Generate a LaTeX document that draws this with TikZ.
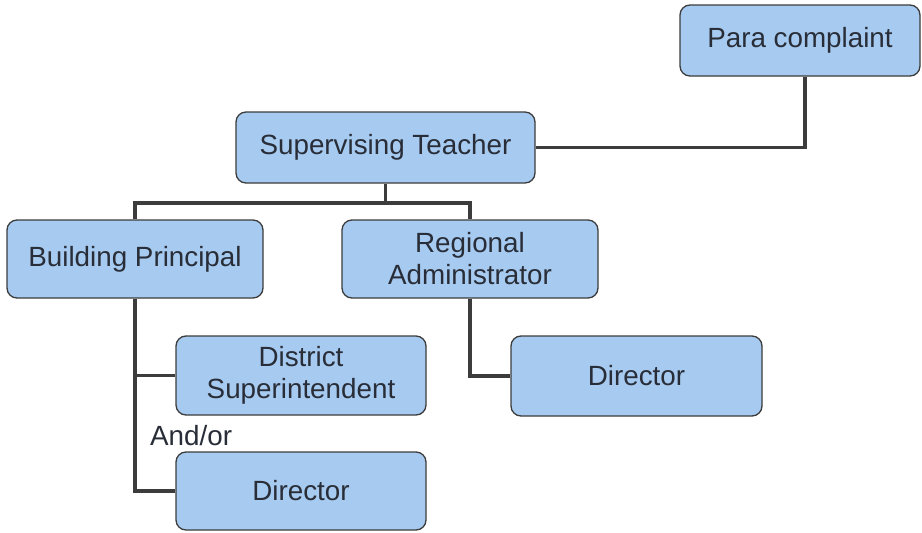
\documentclass[tikz,border=0pt]{standalone}
\usepackage{fontspec}
\setmainfont{Liberation Sans}
\definecolor{boxfill}{RGB}{166,202,240}
\definecolor{boxline}{RGB}{60,60,60}
\definecolor{wire}{RGB}{60,60,60}
\definecolor{ink}{RGB}{40,45,55}
\begin{document}
\begin{tikzpicture}[x=1pt,y=-1pt,
  lbl/.style={text=ink, font=\fontsize{27.8}{32}\selectfont, inner sep=0pt},
  box/.style={lbl, draw=boxline, line width=1.3pt, fill=boxfill, rounded corners=10pt,
    align=center},
  conn/.style={draw=wire, line width=3.5pt}]
  \useasboundingbox[fill=white] (0,0) rectangle (922,533);

  % boxes
  \node[box, minimum width=240pt, minimum height=71pt] (para) at (800,40.5) {Para complaint};
  \node[box, minimum width=299pt, minimum height=71pt] (st) at (385.5,147.5) {Supervising Teacher};
  \node[box, minimum width=256pt, minimum height=78pt] (bp) at (135,259) {Building Principal};
  \node[box, minimum width=256pt, minimum height=78pt] (ra) at (470,259) {Regional\\Administrator};
  \node[box, minimum width=250pt, minimum height=79pt] (ds) at (301,375.5) {District\\Superintendent};
  \node[box, minimum width=250pt, minimum height=78pt] (dir1) at (301,491) {Director};
  \node[box, minimum width=251pt, minimum height=80pt] (dir2) at (636.5,376) {Director};

  % connectors
  \coordinate (split) at (385.5,203);
  \draw[conn] ([xshift=5pt]para.south) |- (st.east);
  \draw[conn] (st.south) -- (split);
  \draw[conn] (bp.north) -- (bp.north |- split) -- (ra.north |- split) -- (ra.north);
  \draw[conn] (bp.south) |- (dir1.west);
  \draw[conn] (bp.south |- ds.west) -- (ds.west);
  \draw[conn] (ra.south) |- (dir2.west);

  % label between the two lower boxes
  \node[lbl, anchor=west] (andor) at (150,436) {And/or};
\end{tikzpicture}
\end{document}
